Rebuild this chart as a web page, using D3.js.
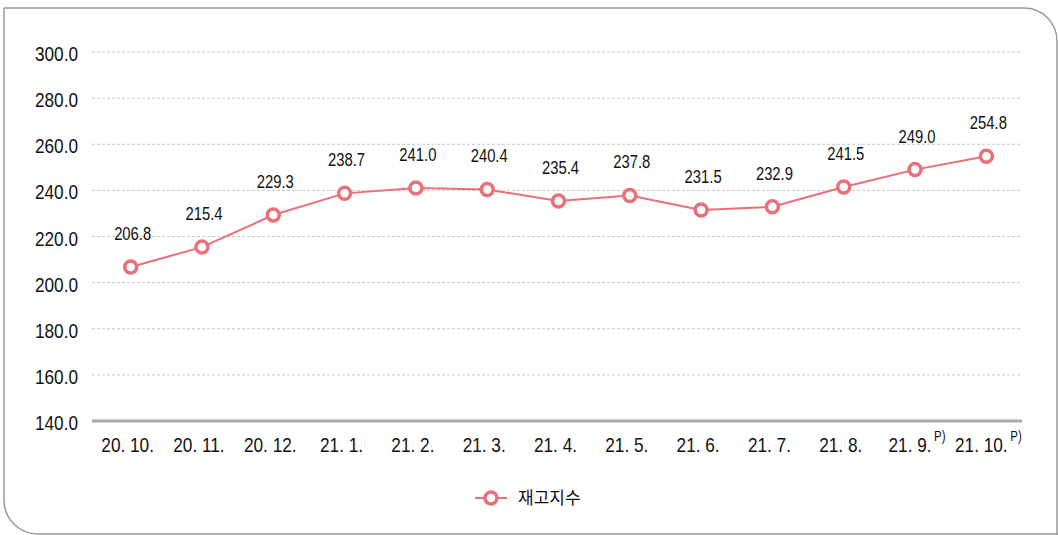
<!DOCTYPE html>
<html>
<head>
<meta charset="utf-8">
<script src="https://cdn.jsdelivr.net/npm/d3@7"></script>
<style>
  body { margin: 0; background: #fff; }
  svg text { font-family: "Liberation Sans", Arial, sans-serif; fill: #111; }
</style>
</head>
<body>
<div id="chart"></div>
<script>
// data
const months = ["20. 10.", "20. 11.", "20. 12.", "21. 1.", "21. 2.", "21. 3.", "21. 4.",
                "21. 5.", "21. 6.", "21. 7.", "21. 8.", "21. 9.", "21. 10."];
const prelim = [false, false, false, false, false, false, false, false, false, false, false, true, true];
const stockIndex = [206.8, 215.4, 229.3, 238.7, 241.0, 240.4, 235.4, 237.8, 231.5, 232.9, 241.5, 249.0, 254.8];
const yTicks = [140, 160, 180, 200, 220, 240, 260, 280, 300];
const seriesName = "재고지수";

const W = 1058, H = 535;
const margin = {top: 52, right: 36, bottom: 114, left: 92};
const innerW = W - margin.left - margin.right;
const innerH = H - margin.top - margin.bottom;
const lineColor = "#ea6f79";
const narrow = 0.82; // the source font is a condensed one

const svg = d3.select("#chart").append("svg")
    .attr("width", W)
    .attr("height", H);

// outer frame with rounded top-right and bottom-left corners
svg.append("path")
    .attr("d", "M4,8 H1024 A33,33 0 0 1 1057,41 V545 M4,8 V500 A34,34 0 0 0 38,534 H1070")
    .attr("fill", "none")
    .attr("stroke", "#999")
    .attr("stroke-width", 1.5);

const g = svg.append("g")
    .attr("transform", "translate(" + margin.left + "," + margin.top + ")");

const xScale = d3.scalePoint().domain(months).range([3, innerW]).padding(0.5);
const yScale = d3.scaleLinear().domain([140, 300]).range([innerH, 0]);

// dashed grid lines
g.append("g").selectAll("line")
    .data(yTicks.filter(d => d > 140))
    .join("line")
    .attr("x1", 0).attr("x2", innerW)
    .attr("y1", d => yScale(d)).attr("y2", d => yScale(d))
    .attr("stroke", "#c8c8c8")
    .attr("stroke-width", 1)
    .attr("stroke-dasharray", "3,2");

// y axis labels
const yAxis = g.append("g")
    .call(d3.axisLeft(yScale).tickValues(yTicks).tickFormat(d3.format(".1f")).tickSize(0));
yAxis.select(".domain").remove();
yAxis.selectAll("text")
    .attr("x", 0)
    .attr("dy", "0.36em")
    .attr("transform", "translate(-14,1) scale(" + narrow + ",1)")
    .style("font-size", "21px")
    .attr("fill", "#111");

// x axis baseline
g.append("line")
    .attr("x1", 0).attr("x2", innerW)
    .attr("y1", innerH).attr("y2", innerH)
    .attr("stroke", "#aaa")
    .attr("stroke-width", 3);

// x labels (preliminary months shifted left to make room for P))
g.append("g").selectAll("text")
    .data(months)
    .join("text")
    .attr("transform", (d, i) => "translate(" + (xScale(d) - (prelim[i] ? 5 : 3)) + "," + (innerH + 31) + ") scale(" + narrow + ",1)")
    .attr("text-anchor", "middle")
    .style("font-size", "21px")
    .text(d => d);

// P) superscripts
g.append("g").selectAll("text")
    .data(months.filter((d, i) => prelim[i]))
    .join("text")
    .attr("transform", d => "translate(" + (xScale(d) + (d.length > 6 ? 24 : 19)) + "," + (innerH + 20) + ") scale(" + narrow + ",1)")
    .style("font-size", "14px")
    .text("P)");

// line
const line = d3.line()
    .x((d, i) => xScale(months[i]))
    .y(d => yScale(d));

g.append("path")
    .datum(stockIndex)
    .attr("d", line)
    .attr("fill", "none")
    .attr("stroke", lineColor)
    .attr("stroke-width", 2);

g.append("g").selectAll("circle")
    .data(stockIndex)
    .join("circle")
    .attr("cx", (d, i) => xScale(months[i]))
    .attr("cy", d => yScale(d))
    .attr("r", 6)
    .attr("fill", "#fff")
    .attr("stroke", lineColor)
    .attr("stroke-width", 3.5);

// value labels
g.append("g").selectAll("text")
    .data(stockIndex)
    .join("text")
    .attr("transform", (d, i) => "translate(" + (xScale(months[i]) + 2) + "," + (yScale(d) - 27) + ") scale(0.78,1)")
    .attr("text-anchor", "middle")
    .style("font-size", "19px")
    .text(d => d3.format(".1f")(d));

// legend
const leg = svg.append("g").attr("transform", "translate(475,498)");
leg.append("line")
    .attr("x1", 0).attr("x2", 32)
    .attr("stroke", lineColor).attr("stroke-width", 2);
leg.append("circle")
    .attr("cx", 16).attr("r", 6)
    .attr("fill", "#fff")
    .attr("stroke", lineColor).attr("stroke-width", 3.5);
leg.append("text")
    .attr("x", 43).attr("y", 6)
    .style("font-family", "'Noto Sans CJK KR', sans-serif")
    .style("font-size", "17px")
    .text(seriesName);
</script>
</body>
</html>
